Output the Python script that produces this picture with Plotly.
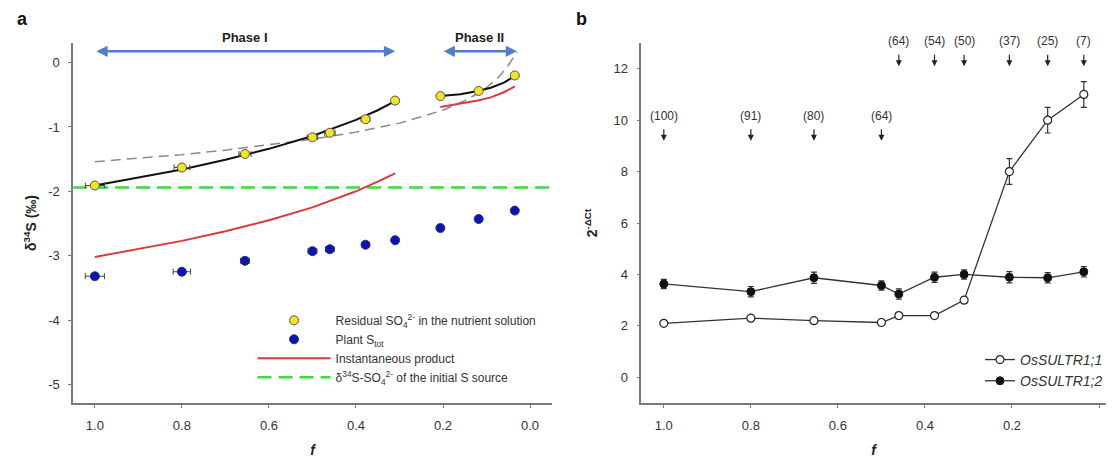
import plotly.graph_objects as go

# ---------------- Data: panel a ----------------
f_pts = [1.0, 0.8, 0.655, 0.5, 0.46, 0.378, 0.31, 0.206, 0.118, 0.035]
residual_so4 = [-1.91, -1.63, -1.42, -1.16, -1.09, -0.88, -0.59, -0.52, -0.44, -0.20]
residual_xerr = [0.022, 0.018, 0.014, 0.012, 0.012, 0.01, 0.004, 0.003, 0.003, 0.003]
residual_yerr = [0.03, 0.04, 0.04, 0.04, 0.04, 0.05, 0.05, 0.04, 0.04, 0.04]
plant_stot = [-3.32, -3.25, -3.08, -2.93, -2.90, -2.83, -2.76, -2.57, -2.43, -2.30]
plant_xerr = [0.022, 0.02, 0.01, 0.01, 0.01, 0.008, 0.006, 0.004, 0.004, 0.004]
plant_yerr = [0.05, 0.04, 0.05, 0.05, 0.04, 0.04, 0.04, 0.04, 0.04, 0.04]

fit1_f = [1.0, 0.9, 0.8, 0.7, 0.6, 0.5, 0.45, 0.4, 0.35, 0.31]
fit1_d = [-1.91, -1.79, -1.66, -1.51, -1.34, -1.14, -1.02, -0.89, -0.74, -0.60]
fit2_f = [0.206, 0.16, 0.12, 0.09, 0.06, 0.035]
fit2_d = [-0.52, -0.49, -0.44, -0.39, -0.31, -0.21]

inst1_d = [-3.02, -2.90, -2.77, -2.62, -2.45, -2.25, -2.13, -2.00, -1.85, -1.72]
inst2_d = [-0.69, -0.64, -0.59, -0.54, -0.46, -0.37]

closed_f = [1.0, 0.9, 0.8, 0.7, 0.6, 0.5, 0.4, 0.3, 0.2, 0.15, 0.12, 0.1, 0.07, 0.05, 0.03]
closed_d = [-1.54, -1.49, -1.43, -1.36, -1.28, -1.19, -1.08, -0.94, -0.74, -0.59, -0.48,
            -0.39, -0.21, -0.04, 0.16]

initial_source = -1.94
phase_names = ["Phase I", "Phase II"]
phase_start = [1.0, 0.202]
phase_end = [0.31, 0.03]
phase_level = 0.176

x_ticks = [1.0, 0.8, 0.6, 0.4, 0.2, 0.0]
x_ticktext = ["1.0", "0.8", "0.6", "0.4", "0.2", "0.0"]
ya_ticks = [0, -1, -2, -3, -4, -5]
ya_ticktext = ["0", "-1", "-2", "-3", "-4", "-5"]

# ---------------- Data: panel b ----------------
sultr11 = [2.1, 2.3, 2.2, 2.13, 2.4, 2.4, 3.0, 8.0, 10.0, 11.0]
sultr11_err = [0.08, 0.1, 0.08, 0.08, 0.12, 0.1, 0.12, 0.5, 0.5, 0.5]
sultr12 = [3.63, 3.33, 3.87, 3.57, 3.24, 3.89, 4.0, 3.89, 3.87, 4.1]
sultr12_err = [0.18, 0.2, 0.22, 0.18, 0.2, 0.2, 0.18, 0.22, 0.2, 0.2]
counts = ["(100)", "(91)", "(80)", "(64)", "(64)", "(54)", "(50)", "(37)", "(25)", "(7)"]
count_row = [0, 0, 0, 0, 1, 1, 1, 1, 1, 1]
yb_ticks = [0, 2, 4, 6, 8, 10, 12]

FONT = "Liberation Sans, Arial, sans-serif"
ERRC = "#444444"
W, H = 1100, 450  # page body adds an 8px margin around the figure

fig = go.Figure()

# closed-system (dashed gray)
fig.add_trace(go.Scatter(x=closed_f, y=closed_d, mode="lines", showlegend=False,
                         line=dict(color="#8a8a8a", width=1.5, dash="10px,6px"),
                         xaxis="x", yaxis="y"))
# initial source (green dashed)
fig.add_trace(go.Scatter(x=[1.05, -0.05], y=[initial_source, initial_source], mode="lines",
                         name="δ<sup>34</sup>S-SO<sub>4</sub><sup>2-</sup> of the initial S source",
                         line=dict(color="#3bdc3b", width=2.5, dash="14px,7px"),
                         xaxis="x", yaxis="y", legend="legend", legendrank=4))
# instantaneous product
fig.add_trace(go.Scatter(x=fit1_f, y=inst1_d, mode="lines", name="Instantaneous product",
                         line=dict(color="#d93a3a", width=2), xaxis="x", yaxis="y",
                         legend="legend", legendrank=3, legendgroup="inst"))
fig.add_trace(go.Scatter(x=fit2_f, y=inst2_d, mode="lines", showlegend=False,
                         line=dict(color="#d93a3a", width=2), xaxis="x", yaxis="y",
                         legendgroup="inst"))
# fits (black)
fig.add_trace(go.Scatter(x=fit1_f, y=fit1_d, mode="lines", showlegend=False,
                         line=dict(color="#111111", width=2), xaxis="x", yaxis="y"))
fig.add_trace(go.Scatter(x=fit2_f, y=fit2_d, mode="lines", showlegend=False,
                         line=dict(color="#111111", width=2), xaxis="x", yaxis="y"))
# plant Stot
fig.add_trace(go.Scatter(x=f_pts, y=plant_stot, mode="markers", name="Plant S<sub>tot</sub>",
                         marker=dict(color="#0a14b4", size=9, line=dict(color="#333366", width=1)),
                         error_x=dict(type="data", array=plant_xerr, color=ERRC, thickness=1, width=3),
                         error_y=dict(type="data", array=plant_yerr, color=ERRC, thickness=1, width=3),
                         xaxis="x", yaxis="y", legend="legend", legendrank=2))
# residual SO4
fig.add_trace(go.Scatter(x=f_pts, y=residual_so4, mode="markers",
                         name="Residual SO<sub>4</sub><sup>2-</sup> in the nutrient solution",
                         marker=dict(color="#f2e422", size=9, line=dict(color="#555555", width=1)),
                         error_x=dict(type="data", array=residual_xerr, color=ERRC, thickness=1, width=3),
                         error_y=dict(type="data", array=residual_yerr, color=ERRC, thickness=1, width=3),
                         xaxis="x", yaxis="y", legend="legend", legendrank=1))

# panel b
fig.add_trace(go.Scatter(x=f_pts, y=sultr11, mode="lines+markers", name="<i>OsSULTR1;1</i>",
                         line=dict(color="#333333", width=1.3),
                         marker=dict(symbol="circle", size=8, color="white",
                                     line=dict(color="#222222", width=1.2)),
                         error_y=dict(type="data", array=sultr11_err, color="#333333", thickness=1.2, width=3),
                         xaxis="x2", yaxis="y2", legend="legend2"))
fig.add_trace(go.Scatter(x=f_pts, y=sultr12, mode="lines+markers", name="<i>OsSULTR1;2</i>",
                         line=dict(color="#333333", width=1.3),
                         marker=dict(symbol="circle", size=8, color="#111111",
                                     line=dict(color="#111111", width=1)),
                         error_y=dict(type="data", array=sultr12_err, color="#333333", thickness=1.2, width=3),
                         xaxis="x2", yaxis="y2", legend="legend2"))

annotations = []
# phase arrows and labels
for name, s, e in zip(phase_names, phase_start, phase_end):
    annotations.append(dict(x=e, y=phase_level, ax=s, ay=phase_level, xref="x", yref="y",
                            axref="x", ayref="y", text="", showarrow=True, arrowside="end+start",
                            arrowhead=2, arrowsize=0.9, arrowwidth=2.5, arrowcolor="#4f7fc6"))
    annotations.append(dict(x=(s + e) / 2, y=1.0147, xref="x", yref="paper", yanchor="middle",
                            text="<b>" + name + "</b>", showarrow=False,
                            font=dict(family=FONT, size=13, color="#222222")))

# counts in panel b
row_tip = [9.2, 12.1]
for fx, c, r in zip(f_pts, counts, count_row):
    annotations.append(dict(x=fx, y=row_tip[r], xref="x2", yref="y2", text=c, showarrow=True,
                            ax=0, ay=-25, arrowhead=2, arrowsize=1, arrowwidth=1.2,
                            arrowcolor="#222222", startstandoff=5,
                            font=dict(family=FONT, size=12, color="#333333")))

# panel labels
annotations.append(dict(x=15 / W, y=1.066, xref="paper", yref="paper", xanchor="center",
                        yanchor="middle", text="<b>a</b>", showarrow=False,
                        font=dict(family=FONT, size=18, color="#111111")))
annotations.append(dict(x=575 / W, y=1.066, xref="paper", yref="paper", xanchor="center",
                        yanchor="middle", text="<b>b</b>", showarrow=False,
                        font=dict(family=FONT, size=18, color="#111111")))

axis_common = dict(showline=True, linecolor="#7a7a7a", linewidth=1.5, ticks="outside", ticklen=3,
                   tickcolor="#7a7a7a", showgrid=False, zeroline=False, automargin=False,
                   tickfont=dict(family=FONT, size=13, color="#333333"))

fig.update_layout(
    width=W, height=H,
    margin=dict(l=0, r=0, t=35, b=55),
    paper_bgcolor="white", plot_bgcolor="white",
    font=dict(family=FONT, color="#333333"),
    xaxis=dict(domain=[65.3 / W, 545 / W], range=[1.0498, -0.0505],
               tickvals=x_ticks, ticktext=x_ticktext, ticklabelstandoff=7,
               title=dict(text="<b><i>f</i></b>", standoff=26, font=dict(family=FONT, size=14, color="#222222")),
               **axis_common),
    yaxis=dict(range=[-5.29, 0.305], tickvals=ya_ticks, ticktext=ya_ticktext, ticklabelstandoff=6,
               title=dict(text="<b>δ<sup>34</sup>S (‰)</b>", standoff=8, font=dict(family=FONT, size=14, color="#222222")),
               **axis_common),
    xaxis2=dict(domain=[634.5 / W, 1.0], range=[1.0516, -0.016],
                tickvals=x_ticks, ticktext=x_ticktext, anchor="y2", ticklabelstandoff=7,
                title=dict(text="<b><i>f</i></b>", standoff=26, font=dict(family=FONT, size=14, color="#222222")),
                **axis_common),
    yaxis2=dict(range=[-1, 13], tickvals=yb_ticks, anchor="x2", ticklabelstandoff=6,
                title=dict(text="<b>2<sup>-ΔCt</sup></b>", standoff=13, font=dict(family=FONT, size=14, color="#222222")),
                **axis_common),
    legend=dict(x=245 / W, y=0.270, xanchor="left", yanchor="top", itemwidth=73,
                bgcolor="rgba(0,0,0,0)", font=dict(family=FONT, size=12, color="#333333"),
                traceorder="normal"),
    legend2=dict(x=974 / W, y=0.164, xanchor="left", yanchor="top",
                 bgcolor="rgba(0,0,0,0)", font=dict(family=FONT, size=14, color="#333333")),
    annotations=annotations,
)

fig.write_html("out.html")
